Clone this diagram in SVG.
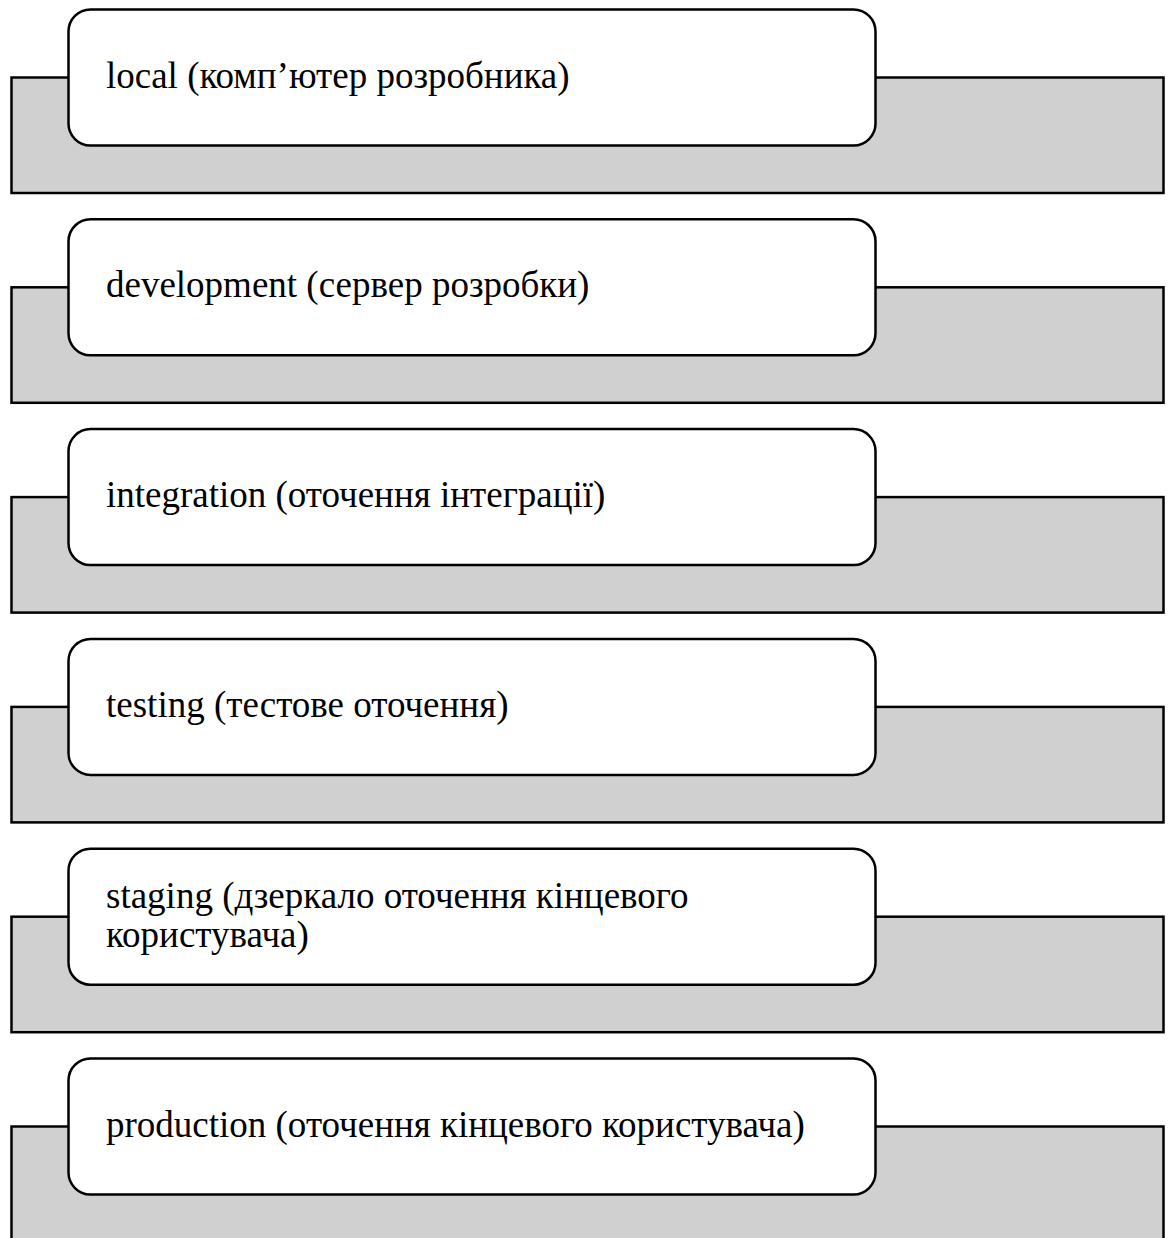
<svg xmlns="http://www.w3.org/2000/svg" width="1170" height="1238" viewBox="0 0 1170 1238">
  <style>
    .band { fill: #d0d0d0; stroke: #000; stroke-width: 2.5; }
    .card { fill: #fff; stroke: #000; stroke-width: 2.5; }
    .label { font-family: "Liberation Serif", "Times New Roman", serif; font-size: 37px; fill: #000; }
  </style>
  <rect width="1170" height="1238" fill="#fff"/>

  <g id="env-local" transform="translate(0,0)">
    <rect class="band" x="11.5" y="77.5" width="1152" height="115.5"/>
    <rect class="card" x="68.5" y="9.5" width="807" height="136" rx="22" ry="22"/>
    <text class="label" x="106" y="87.5">local (комп’ютер розробника)</text>
  </g>

  <g id="env-development" transform="translate(0,209.8)">
    <rect class="band" x="11.5" y="77.5" width="1152" height="115.5"/>
    <rect class="card" x="68.5" y="9.5" width="807" height="136" rx="22" ry="22"/>
    <text class="label" x="106" y="87.5">development (сервер розробки)</text>
  </g>

  <g id="env-integration" transform="translate(0,419.6)">
    <rect class="band" x="11.5" y="77.5" width="1152" height="115.5"/>
    <rect class="card" x="68.5" y="9.5" width="807" height="136" rx="22" ry="22"/>
    <text class="label" x="106" y="87.5">integration (оточення інтеграції)</text>
  </g>

  <g id="env-testing" transform="translate(0,629.4)">
    <rect class="band" x="11.5" y="77.5" width="1152" height="115.5"/>
    <rect class="card" x="68.5" y="9.5" width="807" height="136" rx="22" ry="22"/>
    <text class="label" x="106" y="87.5">testing (тестове оточення)</text>
  </g>

  <g id="env-staging" transform="translate(0,839.2)">
    <rect class="band" x="11.5" y="77.5" width="1152" height="115.5"/>
    <rect class="card" x="68.5" y="9.5" width="807" height="136" rx="22" ry="22"/>
    <text class="label" x="106" y="69">staging (дзеркало оточення кінцевого</text>
    <text class="label" x="106" y="108">користувача)</text>
  </g>

  <g id="env-production" transform="translate(0,1049)">
    <rect class="band" x="11.5" y="77.5" width="1152" height="115.5"/>
    <rect class="card" x="68.5" y="9.5" width="807" height="136" rx="22" ry="22"/>
    <text class="label" x="106" y="87.5">production (оточення кінцевого користувача)</text>
  </g>

  <g id="connectors"/>
</svg>
